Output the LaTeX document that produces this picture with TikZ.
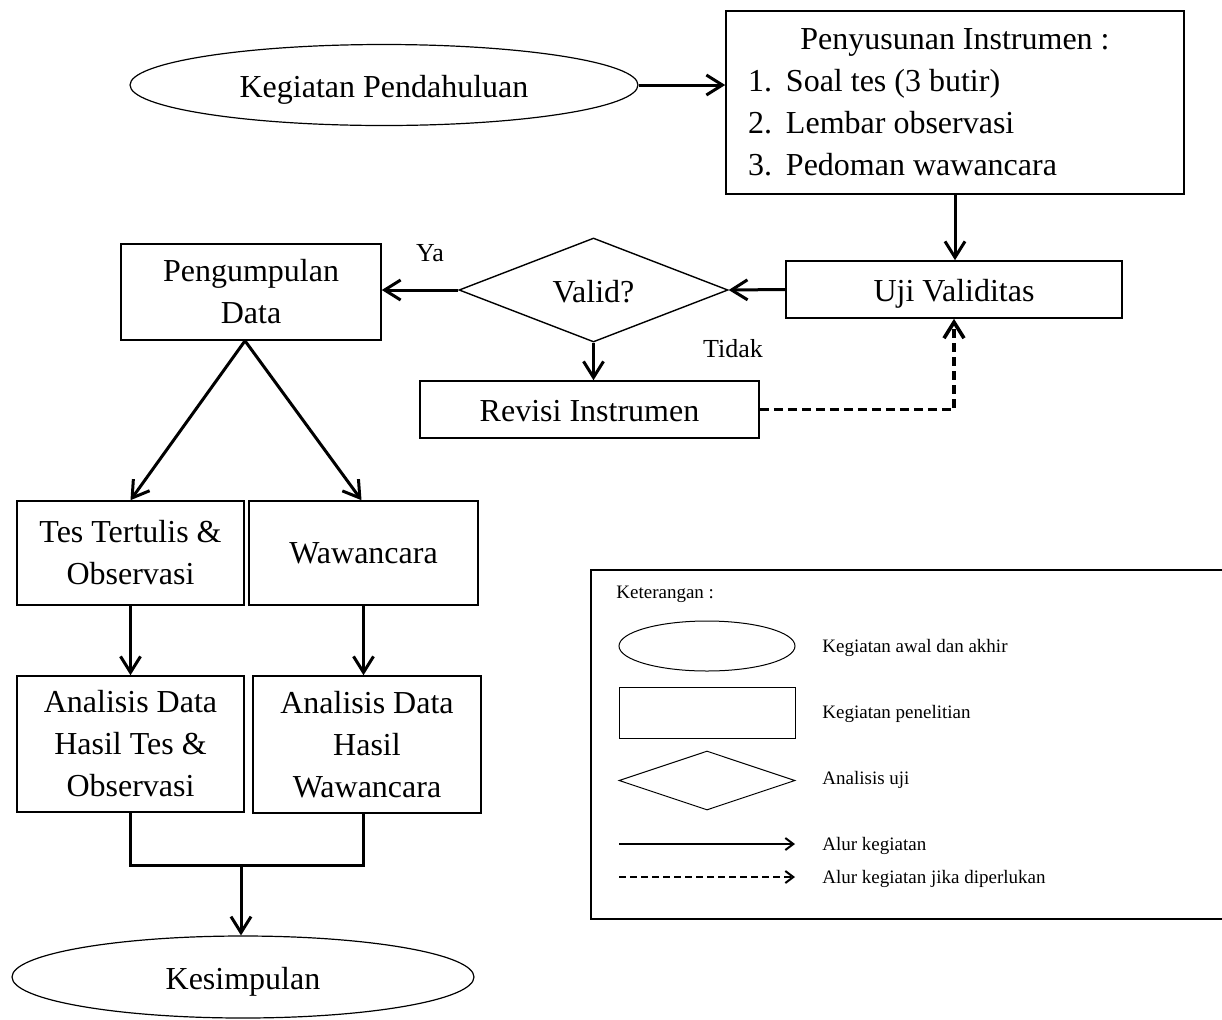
\documentclass[tikz,border=0pt]{standalone}
\usepackage{fontspec}
\setmainfont{Liberation Serif}
\usetikzlibrary{arrows.meta,shapes.geometric,positioning}

\begin{document}
\begin{tikzpicture}[x=0.5pt,y=-0.5pt,
   every node/.style={font=\fontsize{16}{21}\selectfont},
   box/.style={draw,line width=0.8pt,inner sep=0pt,align=center},
   oval/.style={draw,ellipse,line width=0.6pt,inner sep=0pt},
   cond/.style={draw,diamond,aspect=2.6,line width=0.7pt,inner sep=0pt},
   one/.style={text height=14pt,text depth=2pt},
   flow/.style={-{Straight Barb[length=8pt,width=10pt]},line width=1.5pt},
   line/.style={line width=1.5pt},
   maybe/.style={flow,line width=1.8pt,dash pattern=on 4.5pt off 2.5pt},
   lbl/.style={font=\fontsize{13}{15}\selectfont},
   note/.style={font=\fontsize{9.5}{11}\selectfont,anchor=west,inner sep=0pt,text height=7.5pt,text depth=1.5pt}]
   \useasboundingbox (0,0) rectangle (1222,1019);

   \node[oval,one,minimum width=254pt,minimum height=40.5pt] (awal) at (384,85) {Kegiatan Pendahuluan};
   \node[box,align=left,inner xsep=11pt,minimum height=91.5pt] (instr) at (955,102.5)
      {\makebox[207pt]{Penyusunan Instrumen :}\\
       \makebox[19pt][l]{1.}Soal tes (3 butir)\\
       \makebox[19pt][l]{2.}Lembar observasi\\
       \makebox[19pt][l]{3.}Pedoman wawancara};
   \node[box,one,minimum width=168pt,minimum height=28.5pt] (uji) at (954,289.5) {Uji Validitas};
   \node[cond,one,minimum width=134.5pt,minimum height=52pt] (valid) at (593.5,290) {Valid?};
   \node[box,one,minimum width=169.5pt,minimum height=28.5pt] (revisi) at (589.5,409.5) {Revisi Instrumen};
   \node[box,minimum width=130pt,minimum height=48pt] (kumpul) at (251,292) {Pengumpulan\\Data};
   \node[box,minimum width=113.5pt,minimum height=52pt] (tes) at (130.5,553) {Tes Tertulis \&\\Observasi};
   \node[box,minimum width=114.5pt,minimum height=52pt] (wawan) at (363.5,553) {Wawancara};
   \node[box,minimum width=113.5pt,minimum height=68pt] (antes) at (130.5,744) {Analisis Data\\Hasil Tes \&\\Observasi};
   \node[box,minimum width=114pt,minimum height=68.5pt] (anwaw) at (367,744.5) {Analisis Data\\Hasil\\Wawancara};
   \node[oval,one,minimum width=231pt,minimum height=41pt] (simpul) at (243,977) {Kesimpulan};
   \coordinate (join) at (241,865);

   \node[lbl] (ya) at (430,253) {Ya};
   \node[lbl] (tidak) at (733,349) {Tidak};

   \draw[flow] (awal.east) -- (awal.east -| instr.west);
   \draw[flow] (instr.south) -- (instr.south |- uji.north);
   \draw[flow] (uji.west) -- (valid.east);
   \draw[flow] (valid.west) -- (valid.west -| kumpul.east);
   \draw[flow] (valid.south) -- (valid.south |- revisi.north);
   \draw[maybe] (revisi.east) -| (uji.south);
   \draw[flow] ([xshift=-3pt]kumpul.south) -- (tes.north);
   \draw[flow] ([xshift=-3pt]kumpul.south) -- ([xshift=-1pt]wawan.north);
   \draw[flow] (tes.south) -- (antes.north);
   \draw[flow] (wawan.south) -- (wawan.south |- anwaw.north);
   \draw[line] (antes.south) |- (join) -| ([xshift=-2pt]anwaw.south);
   \draw[flow] (join) -- (join |- simpul.north);

   % keterangan
   \draw[line width=0.6pt] (1222,570) -| (591,919) -- (1222,919);
   \node[note] (ket) at (616,592) {Keterangan :};
   \node[oval,line width=0.5pt,minimum width=88pt,minimum height=25pt] (kOval) at (707,646) {};
   \node[box,line width=0.5pt,minimum width=88pt,minimum height=25.5pt] (kBox) at (707,712.5) {};
   \node[cond,line width=0.5pt,minimum width=88pt,minimum height=29.5pt] (kCond) at (707,780.5) {};
   \coordinate (kFlowA) at (619,844);
   \coordinate (kFlowB) at (795,844);
   \coordinate (kMaybeA) at (619,877);
   \coordinate (kMaybeB) at (795,877);
   \draw[-{Straight Barb[length=4pt,width=6pt]},line width=1pt] (kFlowA) -- (kFlowB);
   \draw[-{Straight Barb[length=4pt,width=6pt]},line width=1pt,dash pattern=on 3.5pt off 2pt] (kMaybeA) -- (kMaybeB);
   \node[note] (tOval) at (822,646) {Kegiatan awal dan akhir};
   \node[note] (tBox) at (822,712) {Kegiatan penelitian};
   \node[note] (tCond) at (822,778) {Analisis uji};
   \node[note] (tFlow) at (822,844) {Alur kegiatan};
   \node[note] (tMaybe) at (822,877) {Alur kegiatan jika diperlukan};
\end{tikzpicture}
\end{document}
